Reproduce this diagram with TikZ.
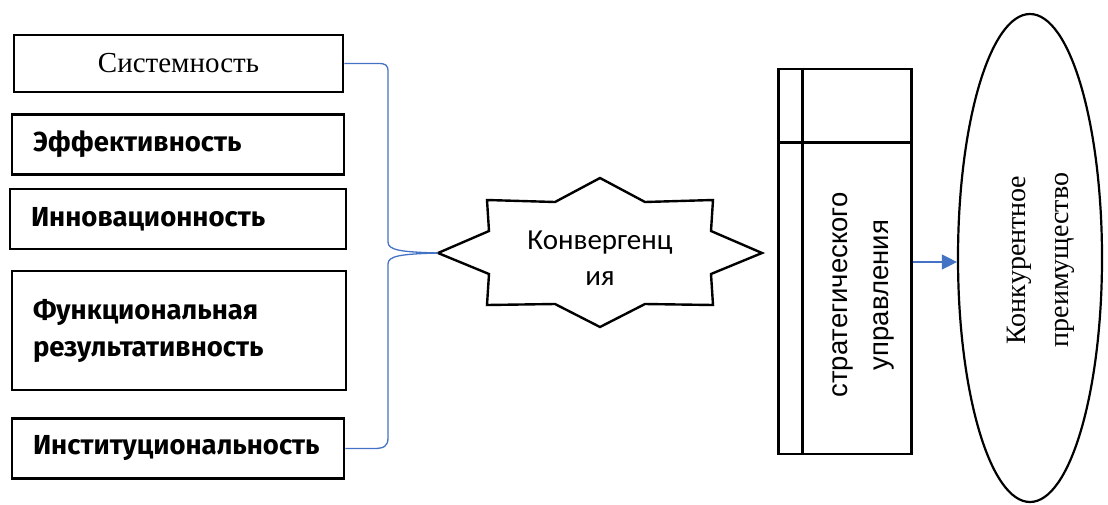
\documentclass[tikz,border=0pt]{standalone}
\usepackage{fontspec}
\setmainfont{Liberation Serif}
\setsansfont{Liberation Sans}
\newfontfamily\factorfont{Fira Sans}
\newfontfamily\calfont{Carlito}
\usepackage{xcolor}
\usetikzlibrary{shapes.geometric, arrows.meta, calc}
\definecolor{linkblue}{HTML}{4472C4}

\begin{document}
\begin{tikzpicture}[x=1pt, y=-1pt,
        base/.style={draw, rectangle, line width=2.6pt, inner xsep=21pt, text width=290pt},
        factor/.style={base, align=left, minimum height=60pt, font=\factorfont\bfseries\fontsize{27.5}{37}\selectfont},
        system/.style={base, align=center, minimum height=57pt, text width=287pt, font=\fontsize{29}{32}\selectfont},
        frame/.style={draw, line width=2.6pt},
        starline/.style={draw, line width=2.4pt, line join=miter},
        brace/.style={draw=linkblue, line width=1.3pt},
        arrow/.style={draw=linkblue, line width=1.3pt, -{Triangle[length=15pt, width=15pt]}}
    ]
    \useasboundingbox (0, 0) rectangle (1108, 504);

    \node (sys) at (178.5, 63.5) [system] {Системность};
    \node (eff) at (178, 144.5) [factor] {Эффективность};
    \node (inn) at (178, 219) [factor, text width=294pt] {Инновационность};
    \node (func) at (179, 330.5) [factor, minimum height=119pt, text width=292pt] {Функциональная\\результативность};
    \node (inst) at (178, 448.5) [factor] {Институциональность};

    % star
    \draw [starline] (438,253) -- (489,231) -- (487,200) -- (555,202) -- (600,178) -- (645,202) -- (713,200) -- (711,231)
        -- (762,253) -- (711,274) -- (713,305) -- (645,304) -- (600,327) -- (555,304) -- (487,305) -- (489,274) -- cycle;
    \coordinate (convtip) at (438, 253);
    \node (conv) at (600, 258) [align=center, font=\calfont\fontsize{29}{36}\selectfont] {Конвергенц\\ия};

    \draw [brace] (sys.east) -- (378, 63.5) .. controls (386, 63.5) and (388, 65) .. (388, 72) -- (388, 242)
        .. controls (388, 250) and (400, 252) .. (convtip);
    \draw [brace] (convtip) .. controls (400, 254) and (388, 256) .. (388, 264) -- (388, 438)
        .. controls (388, 446) and (384, 448.5) .. (374, 448.5) -- (inst.east);

    \node (strat) at (845, 261.5) [frame, minimum width=133pt, minimum height=385pt] {};
    \draw [frame] ($(strat.north west)+(25.5, 0)$) -- ($(strat.south west)+(25.5, 0)$);
    \draw [frame] ($(strat.north west)+(0, 75)$) -- ($(strat.north east)+(0, 75)$);
    \node (stratlabel) at (863, 295) [rotate=90, align=center, font=\sffamily\fontsize{27.5}{41}\selectfont] {стратегического\\управления};

    \node (adv) at (1030, 258) [ellipse, draw, line width=2.2pt, minimum width=144pt, minimum height=488pt] {};
    \node (advlabel) at (1041, 260) [rotate=90, align=center, font=\fontsize{28}{43}\selectfont] {Конкурентное\\преимущество};

    \draw [arrow] (strat.east |- 0, 262) -- (adv.west |- 0, 262);

\end{tikzpicture}
\end{document}
